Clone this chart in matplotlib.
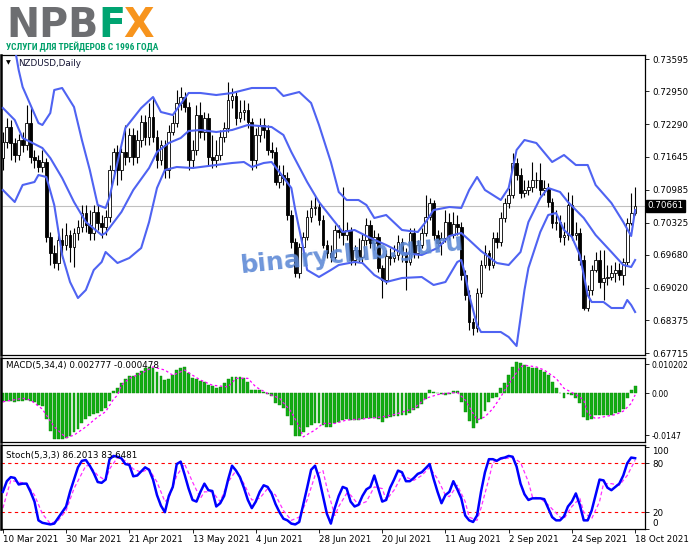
import matplotlib
matplotlib.use("Agg")
import matplotlib.pyplot as plt
import matplotlib.transforms as mtransforms
from matplotlib.patches import Rectangle
from matplotlib import font_manager

# ---- price data (NZDUSD daily) ----
first_open = 0.7162
closes = [
    0.7194, 0.7224, 0.7192, 0.7168, 0.7198, 0.7188, 0.7232, 0.7164, 0.7158, 0.7144,
    0.7154, 0.7004, 0.6972, 0.6952, 0.6998, 0.6988, 0.7008, 0.6984, 0.7012, 0.7024,
    0.7052, 0.7028, 0.7012, 0.7054, 0.7032, 0.7024, 0.7044, 0.7138, 0.7174, 0.7138,
    0.7174, 0.7164, 0.7208, 0.7164, 0.7198, 0.7234, 0.7204, 0.7244, 0.7204, 0.7158,
    0.7188, 0.7138, 0.7214, 0.7232, 0.7272, 0.7284, 0.7264, 0.7158, 0.7178, 0.7248,
    0.7214, 0.7242, 0.7164, 0.7158, 0.7168, 0.7204, 0.7222, 0.7278, 0.7286, 0.7242,
    0.7254, 0.7258, 0.7234, 0.7158, 0.7208, 0.7228, 0.7218, 0.7178, 0.7174, 0.7114,
    0.7128, 0.7122, 0.7048, 0.6994, 0.6932, 0.6984, 0.7004, 0.7044, 0.7062, 0.7064,
    0.7038, 0.6988, 0.6972, 0.6964, 0.7018, 0.7014, 0.7008, 0.7018, 0.6958, 0.6978,
    0.6964, 0.6998, 0.7028, 0.6992, 0.7004, 0.6942, 0.6918, 0.6966, 0.6962, 0.6968,
    0.6994, 0.6972, 0.6954, 0.7012, 0.6972, 0.6988, 0.7012, 0.7044, 0.7072, 0.7008,
    0.6992, 0.7002, 0.7034, 0.7008, 0.7030, 0.7024, 0.6928, 0.6888, 0.6834, 0.6822,
    0.6892, 0.6948, 0.6972, 0.6948, 0.7002, 0.6994, 0.7042, 0.7072, 0.7088, 0.7152,
    0.7128, 0.7092, 0.7098, 0.7104, 0.7118, 0.7118, 0.7098, 0.7102, 0.7074, 0.7032,
    0.7034, 0.7004, 0.7008, 0.7068, 0.7008, 0.7012, 0.6958, 0.6862, 0.6898, 0.6938,
    0.6958, 0.6914, 0.6922, 0.6924, 0.6932, 0.6938, 0.6928, 0.6954, 0.7032, 0.7052,
    0.70661]
highs = [
    0.7214, 0.7242, 0.7238, 0.7202, 0.7210, 0.7214, 0.7268, 0.7264, 0.7178, 0.7168,
    0.7178, 0.7162, 0.7014, 0.6988, 0.7008, 0.7022, 0.7032, 0.7018, 0.7022, 0.7038,
    0.7068, 0.7068, 0.7058, 0.7068, 0.7068, 0.7048, 0.7058, 0.7148, 0.7182, 0.7188,
    0.7182, 0.7228, 0.7222, 0.7222, 0.7218, 0.7248, 0.7248, 0.7272, 0.7284, 0.7218,
    0.7198, 0.7198, 0.7228, 0.7248, 0.7298, 0.7304, 0.7294, 0.7274, 0.7198, 0.7268,
    0.7274, 0.7254, 0.7252, 0.7208, 0.7198, 0.7218, 0.7234, 0.7314, 0.7302, 0.7294,
    0.7278, 0.7278, 0.7272, 0.7242, 0.7222, 0.7242, 0.7242, 0.7228, 0.7194, 0.7184,
    0.7148, 0.7148, 0.7134, 0.7058, 0.7002, 0.6992, 0.7014, 0.7058, 0.7078, 0.7088,
    0.7072, 0.7048, 0.6998, 0.6988, 0.7028, 0.7028, 0.7104, 0.7034, 0.7024, 0.6988,
    0.7002, 0.7012, 0.7042, 0.7038, 0.7018, 0.7012, 0.6948, 0.6978, 0.6982, 0.6988,
    0.7008, 0.7002, 0.6982, 0.7022, 0.7022, 0.6998, 0.7022, 0.7088, 0.7082, 0.7078,
    0.7018, 0.7014, 0.7058, 0.7052, 0.7054, 0.7048, 0.7034, 0.6938, 0.6898, 0.6842,
    0.6902, 0.6958, 0.6988, 0.6978, 0.7014, 0.7014, 0.7054, 0.7082, 0.7102, 0.7172,
    0.7162, 0.7142, 0.7118, 0.7118, 0.7154, 0.7134, 0.7152, 0.7118, 0.7112, 0.7082,
    0.7058, 0.7048, 0.7034, 0.7094, 0.7088, 0.7034, 0.7022, 0.6968, 0.6908, 0.6948,
    0.6974, 0.6978, 0.6978, 0.6948, 0.6948, 0.6954, 0.6952, 0.6962, 0.7042, 0.7092,
    0.7104]
lows = [
    0.7138, 0.7182, 0.7158, 0.7154, 0.7158, 0.7174, 0.7178, 0.7152, 0.7142, 0.7134,
    0.7134, 0.6994, 0.6948, 0.6942, 0.6938, 0.6962, 0.6978, 0.6954, 0.6944, 0.6998,
    0.7014, 0.7014, 0.6998, 0.6998, 0.7018, 0.7002, 0.7008, 0.7034, 0.7122, 0.7108,
    0.7118, 0.7148, 0.7154, 0.7148, 0.7152, 0.7184, 0.7188, 0.7188, 0.7194, 0.7142,
    0.7148, 0.7122, 0.7122, 0.7208, 0.7224, 0.7258, 0.7254, 0.7138, 0.7142, 0.7168,
    0.7202, 0.7198, 0.7148, 0.7142, 0.7144, 0.7158, 0.7194, 0.7214, 0.7262, 0.7228,
    0.7234, 0.7238, 0.7222, 0.7138, 0.7142, 0.7194, 0.7202, 0.7168, 0.7162, 0.7108,
    0.7102, 0.7108, 0.7038, 0.6982, 0.6924, 0.6922, 0.6974, 0.6998, 0.7034, 0.7048,
    0.7028, 0.6982, 0.6962, 0.6954, 0.6958, 0.7002, 0.6988, 0.6998, 0.6948, 0.6948,
    0.6954, 0.6954, 0.6988, 0.6982, 0.6978, 0.6934, 0.6882, 0.6910, 0.6948, 0.6954,
    0.6958, 0.6954, 0.6898, 0.6948, 0.6962, 0.6962, 0.6982, 0.7006, 0.7038, 0.6998,
    0.6982, 0.6968, 0.6994, 0.6998, 0.7002, 0.7008, 0.6918, 0.6878, 0.6818, 0.6808,
    0.6814, 0.6884, 0.6942, 0.6938, 0.6942, 0.6982, 0.6986, 0.7034, 0.7062, 0.7082,
    0.7118, 0.7082, 0.7084, 0.7088, 0.7094, 0.7102, 0.7088, 0.7088, 0.7064, 0.7022,
    0.7018, 0.6994, 0.6988, 0.6998, 0.6998, 0.6998, 0.6948, 0.6858, 0.6856, 0.6888,
    0.6934, 0.6902, 0.6878, 0.6908, 0.6918, 0.6914, 0.6918, 0.6908, 0.6948, 0.7028,
    0.7048]
opens = [first_open] + closes[:-1]
last_price = 0.70661

# Bollinger bands (20, 2), read at sample bars
bb_up_idx = [0, 2, 4, 5, 7, 9, 10, 12, 13, 15, 18, 20, 22, 24, 26, 27, 31, 35, 38, 40,
             43, 47, 50, 54, 58, 63, 69, 71, 75, 78, 80, 83, 85, 87, 90, 92, 94, 97, 101, 105,
             107, 109, 113, 116, 118, 120, 122, 126, 128, 130, 132, 135, 139, 142, 145, 148, 150, 154, 157, 159,
             160]
bb_up = [0.7488, 0.7428, 0.7338, 0.7304, 0.7268, 0.7232, 0.7228, 0.7252, 0.7298, 0.7302,
         0.7264, 0.7198, 0.7138, 0.7068, 0.7062, 0.7084, 0.7222, 0.7262, 0.7284, 0.7254,
         0.7248, 0.7292, 0.7292, 0.7288, 0.7292, 0.7302, 0.7302, 0.7286, 0.7294, 0.7272,
         0.7228, 0.7154, 0.7094, 0.7078, 0.7078, 0.7068, 0.7042, 0.7048, 0.7018, 0.7014,
         0.7034, 0.7058, 0.7064, 0.7062, 0.7098, 0.7124, 0.7098, 0.7078, 0.7102, 0.7178,
         0.7198, 0.7192, 0.7154, 0.7168, 0.7148, 0.7148, 0.7108, 0.7072, 0.7034, 0.7006,
         0.7058]
bb_mid_idx = [0, 3, 5, 7, 10, 12, 15, 18, 21, 25, 26, 30, 33, 37, 39, 42, 45, 47, 50, 54,
              58, 62, 68, 71, 73, 77, 80, 84, 86, 89, 93, 97, 101, 106, 110, 113, 116, 118, 121, 125,
              128, 131, 133, 136, 138, 141, 143, 147, 150, 154, 157, 159, 160]
bb_mid = [0.7262, 0.7238, 0.7202, 0.7194, 0.7182, 0.7162, 0.7122, 0.7074, 0.7034, 0.7008,
          0.7012, 0.7054, 0.7098, 0.7142, 0.7174, 0.7192, 0.7202, 0.7216, 0.7218, 0.7214,
          0.7218, 0.7228, 0.7224, 0.7208, 0.7174, 0.7114, 0.7074, 0.7034, 0.7014, 0.7018,
          0.7002, 0.6988, 0.6972, 0.6968, 0.6982, 0.7006, 0.7012, 0.6998, 0.6976, 0.6952,
          0.6948, 0.6974, 0.7034, 0.7082, 0.7102, 0.7094, 0.7074, 0.7042, 0.7008, 0.6974,
          0.6948, 0.6944, 0.6958]
bb_lo_idx = [0, 3, 5, 8, 9, 11, 13, 15, 17, 19, 21, 23, 25, 26, 29, 32, 35, 37, 39, 41,
             44, 48, 54, 58, 61, 63, 66, 68, 70, 73, 74, 76, 77, 80, 83, 85, 89, 91, 94, 97,
             101, 106, 109, 112, 115, 116, 117, 118, 120, 121, 126, 128, 130, 131, 132, 133, 136, 138, 140, 142,
             144, 146, 148, 149, 152, 154, 157, 158, 159, 160]
bb_lo = [0.7098, 0.7074, 0.7108, 0.7114, 0.7128, 0.7124, 0.7068, 0.6968, 0.6914, 0.6882,
         0.6898, 0.6938, 0.6954, 0.6974, 0.6952, 0.6962, 0.6982, 0.7034, 0.7102, 0.7138,
         0.7144, 0.7142, 0.7148, 0.7152, 0.7154, 0.7144, 0.7152, 0.7154, 0.7134, 0.7102,
         0.7058, 0.6982, 0.6938, 0.6924, 0.6938, 0.6948, 0.6954, 0.6952, 0.6928, 0.6914,
         0.6922, 0.6924, 0.6908, 0.6914, 0.6954, 0.6958, 0.6928, 0.6888, 0.6828, 0.6814,
         0.6814, 0.6804, 0.6786, 0.6842, 0.6898, 0.6942, 0.7014, 0.7048, 0.7052, 0.7018,
         0.7004, 0.6968, 0.6888, 0.6874, 0.6874, 0.6862, 0.6862, 0.6878, 0.6868, 0.6854]

# MACD(5,34,4)
macd_hist = [
    -0.0030, -0.0028, -0.0027, -0.0030, -0.0028, -0.0025, -0.0024, -0.0026, -0.0030, -0.0040,
    -0.0045, -0.0090, -0.0130, -0.0160, -0.0160, -0.0158, -0.0155, -0.0148, -0.0135, -0.0125,
    -0.0105, -0.0090, -0.0080, -0.0072, -0.0068, -0.0060, -0.0052, -0.0025, 0.0010, 0.0018,
    0.0035, 0.0050, 0.0062, 0.0062, 0.0070, 0.0080, 0.0088, 0.0093, 0.0090, 0.0076,
    0.0060, 0.0047, 0.0052, 0.0065, 0.0082, 0.0090, 0.0093, 0.0070, 0.0055, 0.0050,
    0.0045, 0.0040, 0.0030, 0.0025, 0.0020, 0.0022, 0.0035, 0.0052, 0.0058, 0.0058,
    0.0058, 0.0055, 0.0040, 0.0012, 0.0012, 0.0012, 0.0005, -0.0002, -0.0008, -0.0035,
    -0.0040, -0.0050, -0.0080, -0.0110, -0.0150, -0.0150, -0.0135, -0.0117, -0.0110, -0.0105,
    -0.0105, -0.0110, -0.0117, -0.0117, -0.0105, -0.0099, -0.0093, -0.0090, -0.0092, -0.0093,
    -0.0092, -0.0090, -0.0085, -0.0087, -0.0086, -0.0090, -0.0099, -0.0085, -0.0082, -0.0080,
    -0.0078, -0.0076, -0.0074, -0.0070, -0.0058, -0.0050, -0.0038, -0.0020, 0.0012, 0.0006,
    0.0000, -0.0003, -0.0004, -0.0002, 0.0008, 0.0008, -0.0030, -0.0065, -0.0095, -0.0122,
    -0.0105, -0.0088, -0.0060, -0.0030, -0.0017, -0.0012, 0.0018, 0.0035, 0.0064, 0.0093,
    0.0111, 0.0105, 0.0099, 0.0093, 0.0090, 0.0090, 0.0082, 0.0076, 0.0064, 0.0041,
    0.0018, 0.0002, -0.0015, -0.0002, -0.0006, -0.0017, -0.0035, -0.0082, -0.0093, -0.0088,
    -0.0076, -0.0076, -0.0074, -0.0074, -0.0074, -0.0070, -0.0064, -0.0053, -0.0017, 0.0012,
    0.002777]
macd_sig_idx = [0, 5, 7, 10, 13, 16, 18, 21, 24, 26, 28, 29, 30, 32, 35, 38, 41, 43, 46, 48,
                50, 53, 57, 59, 62, 64, 67, 70, 73, 75, 76, 79, 81, 84, 87, 92, 96, 99, 104, 107,
                110, 112, 115, 117, 119, 120, 122, 124, 126, 127, 129, 131, 132, 135, 137, 140, 142, 145, 147, 148,
                150, 152, 155, 157, 159, 160]
macd_sig = [-0.0029, -0.0017, -0.0023, -0.0055, -0.0117, -0.0155, -0.0146, -0.0117, -0.0082, -0.0064,
            -0.0020, -0.0006, 0.0029, 0.0053, 0.0070, 0.0093, 0.0082, 0.0064, 0.0082, 0.0064,
            0.0047, 0.0029, 0.0023, 0.0053, 0.0053, 0.0023, 0.0000, -0.0017, -0.0064, -0.0117,
            -0.0152, -0.0128, -0.0105, -0.0105, -0.0093, -0.0088, -0.0082, -0.0074, -0.0053, -0.0017,
            -0.0004, 0.0000, 0.0004, -0.0023, -0.0070, -0.0093, -0.0082, -0.0053, -0.0012, 0.0012,
            0.0053, 0.0093, 0.0099, 0.0093, 0.0082, 0.0053, 0.0018, -0.0004, -0.0023, -0.0070,
            -0.0088, -0.0082, -0.0074, -0.0062, -0.0035, -0.000478]

# Stochastic(5,3,3)
stoch_main = [
    45, 58, 63, 62, 54, 55, 55, 45, 33, 10,
    7, 6, 5, 6, 13, 20, 27, 45, 60, 75,
    83, 84, 77, 68, 57, 56, 60, 85, 89, 88,
    86, 79, 78, 64, 65, 70, 75, 72, 60, 41,
    28, 20, 40, 51, 79, 82, 66, 49, 35, 33,
    45, 55, 47, 46, 27, 31, 40, 60, 77, 71,
    63, 50, 35, 25, 33, 45, 53, 51, 43, 30,
    20, 12, 10, 6, 5, 8, 29, 50, 72, 77,
    62, 40, 18, 6, 25, 40, 51, 49, 33, 27,
    29, 40, 48, 51, 65, 49, 33, 35, 50, 60,
    71, 69, 58, 58, 62, 67, 69, 74, 79, 61,
    45, 31, 41, 45, 58, 48, 37, 16, 10, 8,
    16, 45, 69, 85, 85, 83, 86, 87, 89, 88,
    76, 55, 42, 35, 37, 37, 37, 36, 25, 14,
    10, 10, 15, 27, 33, 43, 29, 10, 10, 22,
    41, 60, 59, 50, 47, 51, 55, 65, 80, 87,
    86.2013]
stoch_sig_idx = [0, 2, 4, 6, 8, 10, 12, 14, 16, 18, 21, 22, 24, 26, 27, 29, 31, 33, 35, 37,
                 39, 41, 42, 44, 46, 48, 50, 51, 53, 55, 57, 59, 61, 63, 65, 67, 69, 71, 73, 75,
                 77, 79, 81, 82, 84, 85, 87, 88, 90, 92, 94, 96, 97, 99, 101, 104, 106, 108, 110, 112,
                 113, 115, 117, 118, 120, 121, 123, 124, 126, 129, 131, 133, 134, 136, 138, 141, 142, 144, 146, 147,
                 149, 151, 152, 154, 156, 158, 160]
stoch_sig = [25, 59, 57, 55, 41, 18, 6, 10, 22, 49, 77, 77, 65, 59, 73, 87, 83, 73, 69, 73,
             57, 33, 37, 65, 79, 57, 37, 45, 45, 33, 57, 71, 55, 35, 37, 49, 41, 22, 10, 14,
             35, 65, 71, 50, 16, 27, 43, 41, 29, 33, 51, 49, 35, 47, 65, 59, 65, 75, 61, 41,
             39, 53, 33, 14, 10, 25, 61, 81, 85, 87, 81, 57, 39, 37, 29, 14, 12, 27, 37, 20,
             12, 33, 55, 55, 53, 65, 83.6481]

price_ticks = [0.73595, 0.72950, 0.72290, 0.71645, 0.70985, 0.70325, 0.69680, 0.69020, 0.68375, 0.67715]
date_pos = [0, 16, 32, 48, 64, 80, 96, 112, 128, 144, 160]
date_labels = ["10 Mar 2021", "30 Mar 2021", "21 Apr 2021", "13 May 2021", "4 Jun 2021",
               "28 Jun 2021", "20 Jul 2021", "11 Aug 2021", "2 Sep 2021", "24 Sep 2021", "18 Oct 2021"]

plt.rcParams['font.family'] = 'DejaVu Sans'
W, H = 691, 549
fig = plt.figure(figsize=(W / 100, H / 100), dpi=100)
fig.patch.set_facecolor('white')


def box(x0, y0, x1, y1):
    # pixel box (top-left origin) -> figure fraction
    return [x0 / W, 1 - y1 / H, (x1 - x0) / W, (y1 - y0) / H]


ax_p = fig.add_axes(box(0.5, 55, 645, 355))
ax_m = fig.add_axes(box(0.5, 357.5, 645, 442), sharex=ax_p)
ax_s = fig.add_axes(box(0.5, 445, 645, 528.5), sharex=ax_p)

lab = 6.3
for ax in (ax_p, ax_m, ax_s):
    ax.set_facecolor('white')
    ax.yaxis.tick_right()
    ax.tick_params(axis='y', labelsize=lab, length=3, width=0.6, pad=2, colors='black')
    for s in ax.spines.values():
        s.set_color('black')
        s.set_linewidth(0.9)
    ax.spines['left'].set_linewidth(1.8)
ax_p.tick_params(axis='x', bottom=False, labelbottom=False)
ax_m.tick_params(axis='x', bottom=False, labelbottom=False)
ax_m.tick_params(axis='y', labelsize=5.6)
ax_p.set_xlim(-0.6, 162.5)

# ---- main price panel ----
n = len(closes)
ax_p.axhline(last_price, color='#c0c0c0', lw=0.8, zorder=1)
for i in range(n):
    o, h, l, c = opens[i], highs[i], lows[i], closes[i]
    ax_p.plot([i, i], [l, h], color='black', lw=0.8, zorder=2, solid_capstyle='butt')
    bull = c >= o
    ax_p.add_patch(Rectangle((i - 0.34, min(o, c)), 0.68, max(abs(c - o), 0.00005),
                             facecolor='white' if bull else 'black', edgecolor='black',
                             lw=0.6, zorder=3))
band_col = '#4f63f2'
ax_p.plot(bb_up_idx, bb_up, color=band_col, lw=1.5, zorder=4)
ax_p.plot(bb_mid_idx, bb_mid, color=band_col, lw=1.5, zorder=4)
ax_p.plot(bb_lo_idx, bb_lo, color=band_col, lw=1.5, zorder=4)
ax_p.set_ylim(0.6768, 0.7368)
ax_p.set_yticks(price_ticks)
ax_p.set_yticklabels([f"{v:.5f}" for v in price_ticks])
trans = mtransforms.blended_transform_factory(ax_p.transAxes, ax_p.transData)
ax_p.text(1.004, last_price, f"{last_price:.5f}", transform=trans, fontsize=lab, color='white',
          va='center', ha='left', zorder=6,
          bbox=dict(boxstyle='square,pad=0.18', facecolor='black', edgecolor='black'))
ax_p.text(0.008, 0.973, "\u25bc", transform=ax_p.transAxes, fontsize=4.5, va='center', ha='left')
ax_p.text(0.027, 0.973, "NZDUSD,Daily", transform=ax_p.transAxes, fontsize=lab, va='center',
          ha='left', color='#101030')

# ---- MACD panel ----
ax_m.bar(range(n), macd_hist, width=0.72, color='#12ad12', edgecolor='#0a8a0a', lw=0.3, zorder=2)
ax_m.plot(macd_sig_idx, macd_sig, color='#ff00ff', lw=0.9, ls=(0, (2, 2)), zorder=3)
ax_m.set_ylim(-0.0170, 0.0126)
ax_m.set_yticks([0.010202, 0.0, -0.0147])
ax_m.set_yticklabels(["0.010202", "0.00", "-0.0147"])
ax_m.text(0.008, 0.9, "MACD(5,34,4) 0.002777 -0.000478", transform=ax_m.transAxes,
          fontsize=lab, va='center', ha='left')

# ---- Stochastic panel ----
ax_s.axhline(80, color='#ff0000', lw=0.8, ls=(0, (3, 3)), zorder=1)
ax_s.axhline(20, color='#ff0000', lw=0.8, ls=(0, (3, 3)), zorder=1)
ax_s.plot(stoch_sig_idx, stoch_sig, color='#ff33ff', lw=0.9, ls=(0, (3, 2)), zorder=2)
ax_s.plot(range(n), stoch_main, color='#0000ff', lw=1.8, zorder=3)
ax_s.set_ylim(0.2, 102.4)
ax_s.set_yticks([100, 80, 20, 0])
ax_s.set_yticklabels(["100", "80", "20", "0"])
ylabs = ax_s.get_yticklabels()
ylabs[0].set_va('top')
ylabs[3].set_va('bottom')
ax_s.text(0.008, 0.88, "Stoch(5,3,3) 86.2013 83.6481", transform=ax_s.transAxes,
          fontsize=lab, va='center', ha='left')
ax_s.set_xticks(date_pos)
ax_s.set_xticklabels(date_labels)
ax_s.tick_params(axis='x', labelsize=lab, length=3, width=0.6, pad=1.5)
for t in ax_s.get_xticklabels():
    t.set_ha('left')

# ---- watermark ----
fig.text(352 / W, 1 - 254 / H, "binaryclub.guru", fontsize=18, fontweight='bold',
         color='#5f8ad6', alpha=0.9, rotation=6, ha='center', va='center', zorder=10)

# ---- logo ----
r = fig.canvas.get_renderer()
base = 1 - 37 / H
t1 = fig.text(6 / W, base, "NPB", fontsize=28.5, fontweight='heavy', color='#6d6e71', va='baseline')
b1 = t1.get_window_extent(r)
t2 = fig.text(b1.x1 / W, base, "F", fontsize=28.5, fontweight='heavy', color='#00a471', va='baseline')
b2 = t2.get_window_extent(r)
fig.text(b2.x1 / W - 2 / W, base, "X", fontsize=28.5, fontweight='heavy', color='#f7941d', va='baseline')

names = {f.name for f in font_manager.fontManager.ttflist}
narrow = next((nm for nm in ['Liberation Sans Narrow', 'Roboto Condensed', 'Open Sans Condensed']
               if nm in names), 'DejaVu Sans')
sub = fig.text(6 / W, 1 - 50 / H, "УСЛУГИ ДЛЯ ТРЕЙДЕРОВ С 1996 ГОДА", fontsize=8,
               fontweight='bold', color='#00a06a', va='baseline', family=narrow)
wpx = sub.get_window_extent(r).width
sub.set_fontsize(8 * 154 / wpx)

fig.savefig("out.png", dpi=100, facecolor='white')
